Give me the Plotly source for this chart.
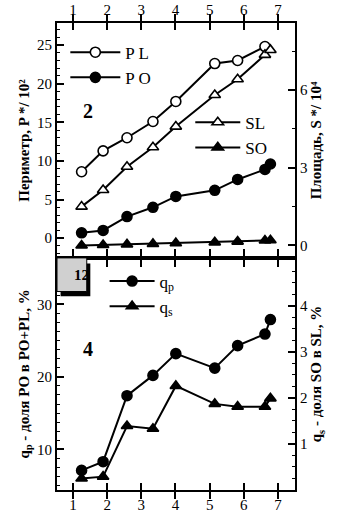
import plotly.graph_objects as go

# ---- data ----
x_top = [1.25, 1.88, 2.58, 3.34, 4.01, 5.15, 5.82, 6.62, 6.78]
PL = [8.6, 11.3, 13.0, 15.1, 17.7, 22.6, 23.0, 24.8, None]
PO = [0.7, 1.0, 2.8, 4.0, 5.4, 6.2, 7.6, 8.9, 9.6]
SL = [1.50, 2.14, 3.04, 3.79, 4.59, 5.81, 6.42, 7.36, 7.55]
SO = [0.0, 0.02, 0.04, 0.06, 0.09, 0.12, 0.15, 0.19, 0.2]

x_bot = [1.25, 1.88, 2.58, 3.34, 4.01, 5.15, 5.82, 6.62, 6.78]
qp = [7.1, 8.3, 17.4, 20.2, 23.2, 21.2, 24.3, 25.9, 27.9]
qs = [0.25, 0.29, 1.39, 1.33, 2.26, 1.87, 1.81, 1.81, 1.99]

x_ticks = [1, 2, 3, 4, 5, 6, 7]

FONT = "Liberation Serif"
BLK = "black"

fig = go.Figure()

def line(x, y, name, sym, fill, xa, ya, legend, size=10):
    fig.add_trace(go.Scatter(
        x=x, y=y, name=name, mode="lines+markers", xaxis=xa, yaxis=ya,
        legend=legend, connectgaps=False,
        line=dict(color=BLK, width=2),
        marker=dict(symbol=sym, size=size, color=fill,
                    line=dict(color=BLK, width=1.6))))

line(x_top, PL, "P L", "circle", "white", "x2", "y3", "legend")
line(x_top, PO, "P O", "circle", BLK, "x2", "y3", "legend")
line(x_top, SL, "SL", "triangle-up", "white", "x2", "y4", "legend2")
line(x_top, SO, "SO", "triangle-up", BLK, "x2", "y4", "legend2")
line(x_bot, qp, "q<sub>p</sub>", "circle", BLK, "x", "y", "legend3")
line(x_bot, qs, "q<sub>s</sub>", "triangle-up", BLK, "x", "y2", "legend3")

axcommon = dict(showline=True, linecolor=BLK, linewidth=2, ticks="inside",
                tickcolor=BLK, tickwidth=1.5, ticklen=7, showgrid=False,
                zeroline=False, automargin=False,
                tickfont=dict(family=FONT, size=15, color=BLK))
minor = dict(ticks="inside", ticklen=3, tickcolor=BLK, tickwidth=1, showgrid=False)
tfont = dict(family=FONT, size=15, color=BLK)

split = 0.497
fig.update_layout(
    width=341, height=513,
    margin=dict(l=57, r=46, t=23, b=23, autoexpand=False),
    paper_bgcolor="white", plot_bgcolor="white",
    font=dict(family=FONT, color=BLK),
    xaxis=dict(**axcommon, domain=[0, 1], anchor="y", range=[0.53, 7.5],
               tickvals=x_ticks, mirror="allticks"),
    xaxis2=dict(**axcommon, domain=[0, 1], anchor="y3", range=[0.53, 7.5],
                tickvals=x_ticks, side="top", mirror="allticks"),
    yaxis=dict(**axcommon, domain=[0, split], anchor="x", range=[4.4, 36.4],
               tickvals=[10, 20, 30], minor=dict(**minor, dtick=1.25),
               title=dict(text="<b>q<sub>p</sub> - доля PO в PO+PL, %</b>",
                          font=tfont, standoff=4)),
    yaxis2=dict(**axcommon, overlaying="y", side="right", anchor="x",
                range=[0, 5.04], tickvals=[1, 2, 3, 4],
                minor=dict(**minor, dtick=0.25),
                title=dict(text="<b>q<sub>s</sub> - доля SO в SL, %</b>",
                           font=tfont, standoff=4)),
    yaxis3=dict(**axcommon, domain=[split, 1], anchor="x2", range=[-2.55, 27.85],
                tickvals=[0, 5, 10, 15, 20, 25], minor=dict(**minor, dtick=1),
                title=dict(text="<b>Периметр, P */ 10²</b>",
                           font=tfont, standoff=4)),
    yaxis4=dict(**axcommon, overlaying="y3", side="right", anchor="x2",
                range=[-0.48, 8.59], tickvals=[0, 3, 6],
                minor=dict(**minor, dtick=1.5),
                title=dict(text="<b>Площадь, S */ 10⁴</b>",
                           font=tfont, standoff=4)),
    legend=dict(x=0.035, y=0.975, xanchor="left", yanchor="top",
                bgcolor="rgba(0,0,0,0)", font=dict(family=FONT, size=17),
                itemwidth=50),
    legend2=dict(x=0.56, y=0.825, xanchor="left", yanchor="top",
                 bgcolor="rgba(0,0,0,0)", font=dict(family=FONT, size=17),
                 itemwidth=45),
    legend3=dict(x=0.2, y=0.485, xanchor="left", yanchor="top",
                 bgcolor="rgba(0,0,0,0)", font=dict(family=FONT, size=17),
                 itemwidth=45),
    showlegend=True,
)

fig.add_annotation(text="<b>2</b>", x=0.1, y=0.84, xref="paper", yref="paper",
                   showarrow=False, font=dict(family=FONT, size=20, color=BLK))
fig.add_annotation(text="<b>4</b>", x=0.1, y=0.275, xref="paper", yref="paper",
                   showarrow=False, font=dict(family=FONT, size=20, color=BLK))

# panel label box "12" with shadow
fig.add_shape(type="rect", xref="paper", yref="paper", x0=0.015, x1=0.14,
              y0=0.415, y1=0.485, fillcolor="black", line=dict(width=0))
fig.add_shape(type="rect", xref="paper", yref="paper", x0=0.0, x1=0.125,
              y0=0.425, y1=split, fillcolor="#d0d0d0",
              line=dict(color=BLK, width=1))
fig.add_annotation(text="<b>12</b>", x=0.0625, y=0.461, xref="paper", yref="paper",
                   showarrow=False, font=dict(family=FONT, size=15, color=BLK))

fig.write_html("out.html",
               config={"displayModeBar": False},
               post_script="document.body.style.margin='0';"
                           "document.body.style.overflow='hidden';")
